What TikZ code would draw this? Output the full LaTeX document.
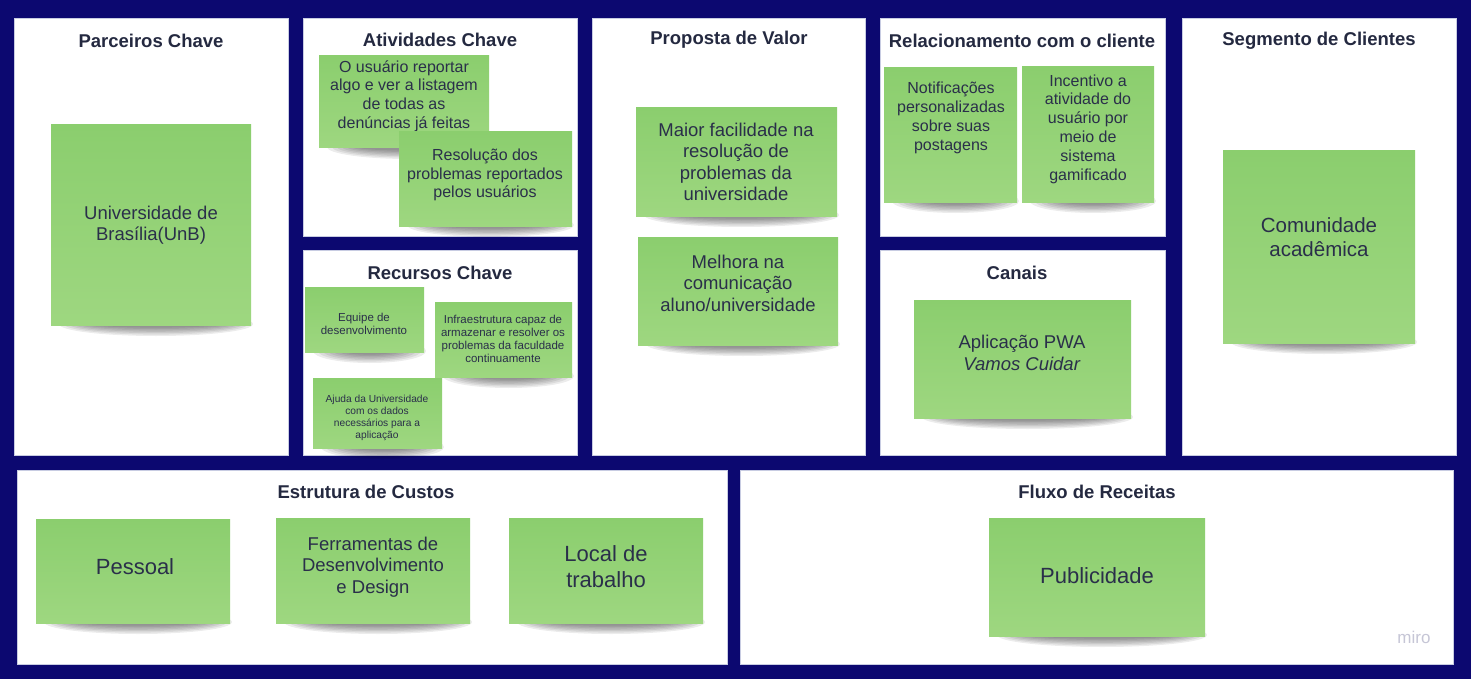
\documentclass[tikz,border=0pt]{standalone}
\usepackage{fontspec}
\setmainfont{Liberation Sans}
\definecolor{navy}{RGB}{12,8,112}
\definecolor{stickytop}{RGB}{139,206,110}
\definecolor{stickybot}{RGB}{158,215,128}
\definecolor{txt}{RGB}{42,47,74}
\definecolor{ttl}{RGB}{36,41,64}
\definecolor{mirogray}{RGB}{198,198,214}
\definecolor{paneledge}{RGB}{200,204,226}
\newcommand\stickynote[4]{%
  \pgfmathsetmacro\snCx{(#1+#3)/2+5}%
  \pgfmathsetmacro\snRx{(#3-#1)/2-3}%
  \foreach \k in {0,...,6}{%
    \fill[black, opacity=0.075] (\snCx,#4-1) ellipse [x radius=\snRx-5*\k, y radius=12-1.4*\k];
  }%
  \shade[top color=stickytop, bottom color=stickybot] (#1,#2) rectangle (#3,#4);
}
\tikzset{
  panel/.style={fill=white, draw=paneledge, line width=0.6pt},
  ttlstyle/.style={font=\bfseries\fontsize{18.5}{22}\selectfont, text=ttl, inner sep=0pt},
  nt/.style={align=center, text=txt, inner sep=0pt},
  fXL/.style={font=\fontsize{22}{26}\selectfont},
  fL/.style={font=\fontsize{20.5}{23.5}\selectfont},
  fM/.style={font=\fontsize{18.5}{21.5}\selectfont},
  fS/.style={font=\fontsize{16}{18.8}\selectfont},
  fXS/.style={font=\fontsize{11.5}{13}\selectfont},
  fXXS/.style={font=\fontsize{10.2}{12}\selectfont},
}
\begin{document}
\begin{tikzpicture}[x=1pt,y=-1pt]
\fill[navy] (0,0) rectangle (1471,679);
\useasboundingbox (0,0) rectangle (1471,679);
% panels
\path[panel] (14,18) rectangle (288,455);
\path[panel] (303,18) rectangle (577,236);
\path[panel] (303,250) rectangle (577,455);
\path[panel] (592,18) rectangle (865,455);
\path[panel] (880,18) rectangle (1165,236);
\path[panel] (880,250) rectangle (1165,455);
\path[panel] (1182,18) rectangle (1456,455);
\path[panel] (17,470) rectangle (727,664);
\path[panel] (740,470) rectangle (1453,664);
% titles
\node[ttlstyle] (t1) at (151,41) {Parceiros Chave};
\node[ttlstyle] (t2) at (440,40) {Atividades Chave};
\node[ttlstyle] (t3) at (440,273) {Recursos Chave};
\node[ttlstyle] (t4) at (729,40) {Proposta de Valor};
\node[ttlstyle] (t5) at (1022,41) {Relacionamento com o cliente};
\node[ttlstyle] (t6) at (1017,273) {Canais};
\node[ttlstyle] (t7) at (1319,41) {Segmento de Clientes};
\node[ttlstyle] (t8) at (366,492) {Estrutura de Custos};
\node[ttlstyle] (t9) at (1097,492) {Fluxo de Receitas};
% Parceiros
\stickynote{51}{125}{251}{325}
\node[nt,fM] (unb) at (151,225) {Universidade de\\Brasília(UnB)};
% Atividades
\stickynote{319}{56}{489}{148}
\node[nt,fS] (a1) at (404,96) {O usuário reportar\\algo e ver a listagem\\de todas as\\denúncias já feitas};
\stickynote{399}{132}{572}{226}
\node[nt,fS] (a2) at (485,175) {Resolução dos\\problemas reportados\\pelos usuários};
% Recursos
\stickynote{305}{287}{424}{352}
\node[nt,fXS] (r1) at (364,324) {Equipe de\\desenvolvimento};
\stickynote{435}{302}{572}{377}
\node[nt,fXS] (r2) at (503,339) {Infraestrutura capaz de\\armazenar e resolver os\\problemas da faculdade\\continuamente};
\stickynote{313}{378}{442}{448}
\node[nt,fXXS] (r3) at (377,418) {Ajuda da Universidade\\com os dados\\necessários para a\\aplicação};
% Proposta
\stickynote{636}{108}{837}{216}
\node[nt,fM] (p1) at (736,162) {Maior facilidade na\\resolução de\\problemas da\\universidade};
\stickynote{638}{237}{838}{345}
\node[nt,fM] (p2) at (738,283) {Melhora na\\comunicação\\aluno/universidade};
% Relacionamento
\stickynote{884}{68}{1017}{202}
\node[nt,fS] (c1) at (951,118) {Notificações\\personalizadas\\sobre suas\\postagens};
\stickynote{1022}{67}{1154}{202}
\node[nt,fS] (c2) at (1088,129) {Incentivo a\\atividade do\\usuário por\\meio de\\sistema\\gamificado};
% Canais
\stickynote{914}{300}{1131}{418}
\node[nt,fM] (k1) at (1022,353) {Aplicação PWA\\\textit{Vamos Cuidar}};
% Segmento
\stickynote{1223}{151}{1415}{343}
\node[nt,fL] (s1) at (1319,237) {Comunidade\\acadêmica};
% Custos
\stickynote{36}{519}{230}{623}
\node[nt,fXL] (e1) at (135,567) {Pessoal};
\stickynote{276}{518}{470}{623}
\node[nt,fM] (e2) at (373,567) {Ferramentas de\\Desenvolvimento\\e Design};
\stickynote{509}{518}{703}{623}
\node[nt,fXL] (e3) at (606,567) {Local de\\trabalho};
% Receitas
\stickynote{989}{518}{1205}{636}
\node[nt,fXL] (f1) at (1097,576) {Publicidade};
% logo
\node[text=mirogray, font=\fontsize{17}{17}\selectfont, inner sep=0pt] (miro) at (1414,637) {miro};
\end{tikzpicture}
\end{document}
